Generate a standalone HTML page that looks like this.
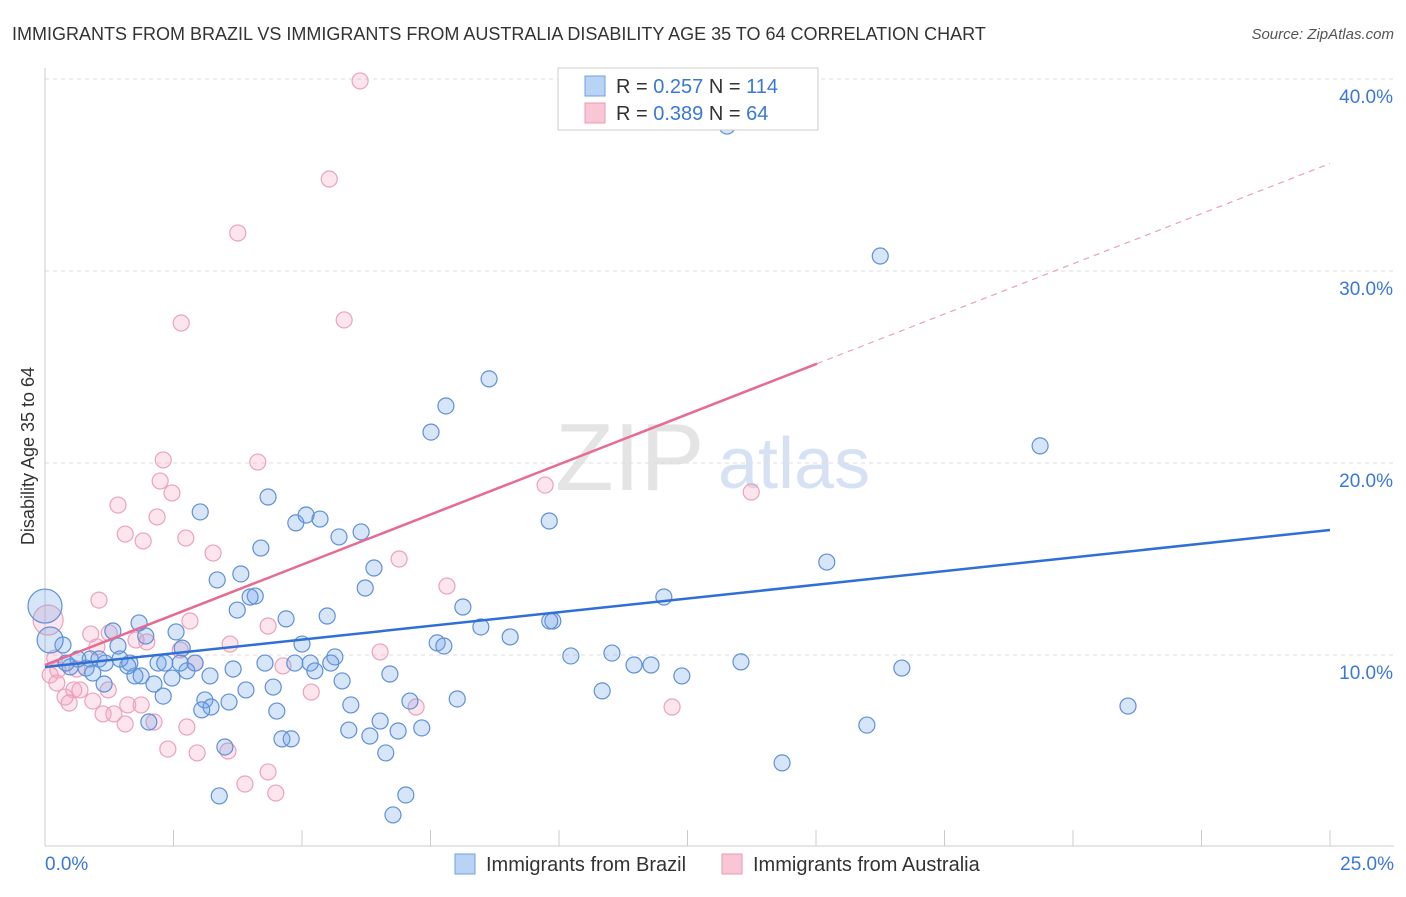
<!DOCTYPE html>
<html><head><meta charset="utf-8"><style>
body{margin:0;background:#fff;font-family:"Liberation Sans",sans-serif;}
svg text{font-family:"Liberation Sans",sans-serif;}
</style></head><body>
<svg id="c" width="1406" height="892" xmlns="http://www.w3.org/2000/svg">
<text x="12" y="40" font-size="18" fill="#333">IMMIGRANTS FROM BRAZIL VS IMMIGRANTS FROM AUSTRALIA DISABILITY AGE 35 TO 64 CORRELATION CHART</text>
<text x="1394" y="39" font-size="15" fill="#555" font-style="italic" text-anchor="end">Source: ZipAtlas.com</text>
<text x="34" y="456" font-size="18" fill="#333" text-anchor="middle" transform="rotate(-90 34 456)">Disability Age 35 to 64</text>
<g><text x="555" y="490" font-size="96" fill="#e4e4e4" font-family="Liberation Serif">ZIP</text><text x="718" y="488" font-size="72" fill="#d6e2f4">atlas</text></g>
<g id="grid"></g><g id="axes"></g><g id="pts"></g><g id="lines"></g>
<g>
<rect x="558" y="68" width="260" height="62" fill="#fff" stroke="#ccc"/>
<rect x="585" y="76" width="20" height="20" fill="#b9d3f4" stroke="#6f9fe0"/>
<rect x="585" y="103" width="20" height="20" fill="#f9c6d6" stroke="#e99ab4"/>
<text x="616" y="93" font-size="20" fill="#333">R = <tspan fill="#3a78d6">0.257</tspan>   N = <tspan fill="#3a78d6">114</tspan></text>
<text x="616" y="120" font-size="20" fill="#333">R = <tspan fill="#3a78d6">0.389</tspan>   N =  <tspan fill="#3a78d6">64</tspan></text>
</g>
<g>
<rect x="455" y="854" width="20" height="20" fill="#b9d3f4" stroke="#6f9fe0"/>
<text x="486" y="871" font-size="20" fill="#333">Immigrants from Brazil</text>
<rect x="722" y="854" width="20" height="20" fill="#f9c6d6" stroke="#e99ab4"/>
<text x="753" y="871" font-size="20" fill="#333">Immigrants from Australia</text>
</g>
</svg>
<script>
const blueX=[13.27,16.25,8.64,7.80,7.51,19.36,9.81,15.21,12.04,3.02,4.34,4.88,5.08,5.35,6.15,5.72,4.20,6.40,6.23,3.81,3.35,4.09,3.99,3.74,4.69,5.49,8.13,8.48,9.05,9.88,7.63,7.76,5.00,10.23,11.03,11.46,11.79,12.39,13.54,16.67,21.07,15.99,14.34,10.84,8.02,7.10,6.71,5.64,5.56,5.16,4.86,5.25,5.78,4.28,3.66,3.21,2.92,2.76,2.63,2.67,2.55,2.20,2.33,2.47,2.30,2.12,1.87,1.75,1.65,1.61,1.83,1.96,1.32,1.42,1.46,1.05,1.17,0.88,0.80,0.93,0.64,0.49,0.41,0.35,1.15,3.11,3.23,3.58,3.91,4.44,4.51,5.95,6.52,5.91,6.32,6.87,7.33,4.61,4.79,3.50,6.63,7.02,3.39,6.77,2.02,3.05,9.82,0.10,0.0];
const blueY=[37.55,30.78,24.38,22.97,21.61,20.89,16.98,14.84,13.02,17.45,18.23,16.88,17.29,17.08,16.41,16.15,15.57,14.53,13.49,14.22,13.91,13.07,13.02,12.34,11.88,12.03,12.50,11.46,10.94,11.77,10.63,10.47,10.57,9.95,10.10,9.48,9.48,8.91,9.64,9.32,7.34,6.35,4.38,8.13,7.71,7.60,9.01,9.90,9.58,9.58,9.58,9.17,8.65,9.58,9.27,8.91,9.58,9.17,9.58,10.36,11.20,9.58,9.58,8.80,7.86,8.49,8.91,8.91,9.58,9.43,11.67,10.99,11.25,10.47,9.79,9.79,9.58,9.79,9.32,9.06,9.79,9.38,9.58,10.52,8.49,7.66,7.29,7.55,8.18,8.33,7.08,7.40,6.56,6.09,5.78,6.04,6.20,5.63,5.63,5.21,4.90,2.71,2.66,1.67,6.51,7.14,11.77,10.78,12.55];
const blueR=blueX.map((v,i)=>i===blueX.length-1?17:(i===blueX.length-2?13:8));
const pinkX=[6.13,5.53,3.75,2.65,5.82,2.30,4.14,2.24,2.47,1.42,2.18,1.56,1.91,2.74,3.27,9.73,13.74,6.89,7.82,1.05,2.82,4.34,0.89,1.25,1.01,1.98,1.77,3.60,2.63,2.92,6.52,4.63,0.19,0.25,0.62,0.10,0.23,0.68,0.56,1.23,0.39,0.93,0.47,1.87,1.61,1.13,1.34,1.56,2.12,2.76,5.18,7.22,12.20,2.39,2.96,3.56,4.34,3.89,4.49,0.06];
const pinkY=[39.9,34.79,31.98,27.29,27.45,20.16,20.05,19.06,18.44,17.81,17.19,16.30,15.94,16.09,15.31,18.85,18.49,15.0,13.59,12.86,11.77,11.51,11.09,11.15,10.42,10.68,10.78,10.57,10.26,9.58,10.16,9.43,9.84,9.22,9.27,8.96,8.54,8.18,8.18,8.18,7.81,7.60,7.50,7.40,7.40,6.93,6.93,6.41,6.51,6.25,8.07,7.29,7.29,5.10,4.90,5.0,3.91,3.28,2.81,11.82];
const pinkR=pinkX.map((v,i)=>i===pinkX.length-1?15:8);
const yTicks=[10,20,30,40];
const yTickLabels=["10.0%","20.0%","30.0%","40.0%"];
const xTicks=[0,2.5,5,7.5,10,12.5,15,17.5,20,22.5,25];
const blueTrend=[9.375,16.51];
const pinkTrend=[9.48,35.6];
const pinkSolidEnd=15.02;

const X=v=>45+v*51.4, Y=v=>847-v*19.2;
const NS="http://www.w3.org/2000/svg";
function mk(t,a,p){const e=document.createElementNS(NS,t);for(const k in a)e.setAttribute(k,a[k]);p.appendChild(e);return e;}
const grid=document.getElementById('grid'),axes=document.getElementById('axes'),pts=document.getElementById('pts'),lines=document.getElementById('lines');
yTicks.forEach((t,i)=>{
 const l=mk('line',{x1:45,x2:1394,y1:Y(t),y2:Y(t),stroke:'#ddd','stroke-dasharray':'4,4'},grid);
 
 
 const tx=mk('text',{x:1393,y:Y(t)+24,'font-size':19,fill:'#3a78d6','text-anchor':'end'},axes);
 tx.textContent=yTickLabels[i];
 
 
});
const ya=mk('line',{x1:45,x2:45,y1:68,y2:846,stroke:'#ccc'},axes);


const xa=mk('line',{x1:45,x2:1394,y1:846,y2:846,stroke:'#ccc'},axes);


xTicks.forEach(t=>{
 const l=mk('line',{x1:X(t),x2:X(t),y1:830,y2:846,stroke:'#ccc'},axes);
 
 
});
const xl0=mk('text',{x:45,y:870,'font-size':19,fill:'#3a78d6'},axes);xl0.textContent='0.0%';


const xl1=mk('text',{x:1394,y:870,'font-size':19,fill:'#3a78d6','text-anchor':'end'},axes);xl1.textContent='25.0%';


pinkX.forEach((v,i)=>{
 const c=mk('circle',{cx:X(v),cy:Y(pinkY[i]),r:pinkR[i],fill:'rgba(244,160,190,0.28)',stroke:'#eba2bb','stroke-width':1.2},pts);
 
 
});
blueX.forEach((v,i)=>{
 const c=mk('circle',{cx:X(v),cy:Y(blueY[i]),r:blueR[i],fill:'rgba(110,160,230,0.28)',stroke:'#5e90d8','stroke-width':1.2},pts);
 
 
});
const bt=mk('line',{x1:X(0),y1:Y(blueTrend[0]),x2:X(25),y2:Y(blueTrend[1]),stroke:'#2f6fd6','stroke-width':2.5},lines);


const pm=pinkTrend[0]+(pinkTrend[1]-pinkTrend[0])*pinkSolidEnd/25;
const pt=mk('line',{x1:X(0),y1:Y(pinkTrend[0]),x2:X(pinkSolidEnd),y2:Y(pm),stroke:'#e76a93','stroke-width':2.5},lines);


const pd=mk('line',{x1:X(pinkSolidEnd),y1:Y(pm),x2:X(25),y2:Y(pinkTrend[1]),stroke:'#eaa0b8','stroke-width':1.2,'stroke-dasharray':'6,5'},lines);


</script>
</body></html>
